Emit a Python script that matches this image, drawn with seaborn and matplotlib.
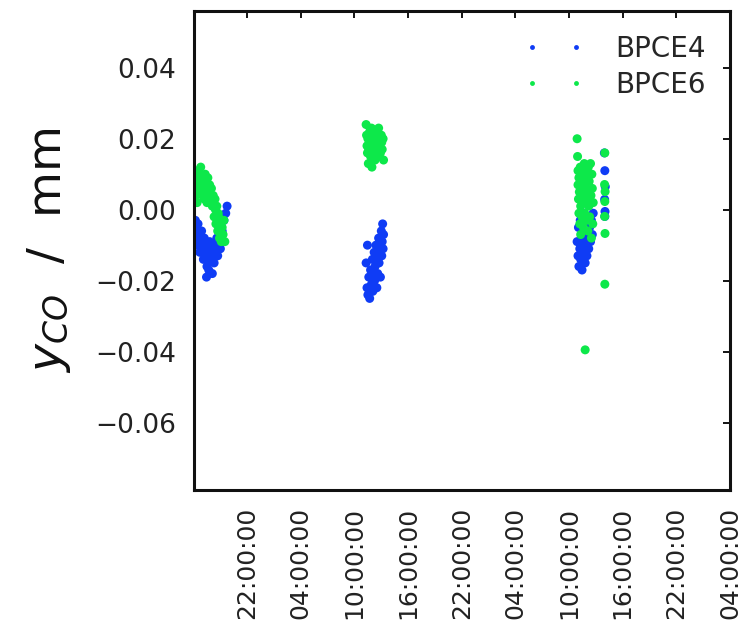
import numpy as np
import pandas as pd
import matplotlib
matplotlib.use("Agg")
import matplotlib.pyplot as plt
import matplotlib.dates as mdates
from matplotlib.lines import Line2D
import seaborn as sns

# ---- data (hours after start time, value in mm) ----
start = pd.Timestamp("2014-06-02 16:00:00")

bpce4_hours = [
    0.2, 0.25, 0.3, 0.4, 0.5, 0.6, 0.7, 0.8, 0.9, 1.0, 1.1, 1.2, 1.3, 1.4, 1.5, 1.6, 1.7, 1.8,
    1.9, 2.0, 2.1, 2.2, 2.3, 2.4, 2.5, 2.6, 2.7, 2.8, 2.9, 3.0, 3.1, 3.2, 3.4, 3.6, 3.75, 1.45,
    19.4, 19.5, 19.6, 19.7, 19.8, 19.9, 20.0, 20.05, 20.1, 20.2, 20.25, 20.3, 20.4, 20.5, 20.55,
    20.6, 20.7, 20.75, 20.8, 20.9, 21.0, 21.05, 21.1, 21.15, 21.2, 21.25, 19.3, 19.45,
    42.9, 43.0, 43.05, 43.1, 43.2, 43.25, 43.3, 43.4, 43.45, 43.5, 43.6, 43.65, 43.7, 43.8,
    43.85, 43.9, 44.0, 44.05, 44.1, 44.2, 44.3, 44.4, 44.5, 44.6, 44.7,
    45.95, 46.0, 46.05, 45.98, 46.02, 46.0,
]
bpce4_values = [
    -0.003, -0.008, -0.005, -0.010, -0.004, -0.007, -0.012, -0.009, -0.006, -0.011, -0.014, -0.008,
    -0.013, -0.010, -0.016, -0.012, -0.017, -0.009, -0.014, -0.011, -0.018, -0.013, -0.015, -0.010,
    -0.012, -0.008, -0.013, -0.010, -0.007, -0.011, -0.009, -0.006, -0.003, -0.001, 0.001, -0.019,
    -0.022, -0.024, -0.019, -0.025, -0.017, -0.021, -0.014, -0.023, -0.018, -0.012, -0.020, -0.016,
    -0.010, -0.022, -0.013, -0.018, -0.008, -0.015, -0.011, -0.019, -0.006, -0.013, -0.009, -0.004,
    -0.011, -0.007, -0.015, -0.010,
    -0.009, -0.013, -0.005, -0.016, -0.011, -0.003, -0.014, -0.008, -0.017, -0.006, -0.012, -0.001,
    -0.010, -0.015, -0.004, -0.009, -0.013, -0.002, -0.007, -0.011, -0.005, -0.009, -0.003, -0.007,
    -0.001,
    0.016, 0.011, 0.0065, 0.0029, -0.0005, -0.0019,
]

bpce6_hours = [
    0.2, 0.25, 0.3, 0.35, 0.4, 0.5, 0.6, 0.7, 0.8, 0.9, 1.0, 1.1, 1.2, 1.3, 1.4, 1.5, 1.6, 1.7,
    1.8, 1.9, 2.0, 2.1, 2.2, 2.3, 2.4, 2.5, 2.6, 2.7, 2.8, 2.9, 3.0, 3.1, 3.2, 3.3, 3.4, 3.5,
    2.45, 2.75,
    19.3, 19.35, 19.4, 19.45, 19.5, 19.55, 19.6, 19.7, 19.75, 19.8, 19.9, 19.95, 20.0, 20.1, 20.2,
    20.25, 20.3, 20.4, 20.5, 20.55, 20.6, 20.7, 20.8, 20.9, 21.0, 21.05, 21.1, 21.2, 21.25,
    42.9, 42.95, 43.0, 43.0, 43.05, 43.1, 43.1, 43.15, 43.2, 43.25, 43.3, 43.3, 43.35, 43.4, 43.45,
    43.5, 43.55, 43.6, 43.65, 43.7, 43.75, 43.8, 43.8, 43.85, 43.9, 43.95, 44.0, 44.05, 44.1, 44.15,
    44.2, 44.25, 44.3, 44.4, 44.45, 44.5, 44.55, 44.6, 44.65, 44.7,
    46.0, 45.97, 46.03, 46.0, 45.98, 46.02, 46.0,
]
bpce6_values = [
    0.008, 0.004, 0.010, 0.006, 0.002, 0.011, 0.007, 0.005, 0.012, 0.009, 0.004, 0.008, 0.003,
    0.010, 0.006, 0.002, 0.009, 0.005, 0.007, 0.003, 0.006, 0.001, 0.004, -0.002, 0.003, -0.004,
    0.001, -0.006, -0.002, -0.008, -0.004, -0.009, -0.005, -0.007, -0.003, -0.009, 0.000, -0.001,
    0.024, 0.021, 0.018, 0.016, 0.020, 0.013, 0.017, 0.022, 0.019, 0.015, 0.023, 0.012, 0.018,
    0.021, 0.016, 0.019, 0.014, 0.022, 0.017, 0.020, 0.015, 0.023, 0.018, 0.016, 0.021, 0.019,
    0.017, 0.020, 0.014,
    0.020, 0.015, 0.011, 0.007, 0.003, -0.001, 0.009, 0.005, -0.004, 0.012, 0.001, -0.007, 0.008,
    0.004, -0.002, 0.010, 0.006, -0.005, 0.002, 0.013, -0.001, -0.0395, 0.007, 0.011, 0.003,
    -0.003, 0.009, 0.005, -0.006, 0.012, 0.001, 0.008, -0.002, 0.013, 0.004, -0.008, 0.010, 0.006,
    -0.004, 0.002,
    0.016, 0.0071, 0.0051, 0.0023, -0.0019, -0.0067, -0.021,
]

series_names = ["BPCE4", "BPCE6"]
colors = {"BPCE4": "#0f3cf5", "BPCE6": "#0de84a"}
y_ticks = [-0.06, -0.04, -0.02, 0.00, 0.02, 0.04]
x_tick_hours = [6, 12, 18, 24, 30, 36, 42, 48, 54, 60]

df = pd.concat([
    pd.DataFrame({"time": start + pd.to_timedelta(bpce4_hours, unit="h"),
                  "value": bpce4_values, "series": "BPCE4"}),
    pd.DataFrame({"time": start + pd.to_timedelta(bpce6_hours, unit="h"),
                  "value": bpce6_values, "series": "BPCE6"}),
], ignore_index=True)

sns.set_style("white")
plt.rcParams["font.family"] = ["DejaVu Sans"]

fig = plt.figure(figsize=(7.44, 6.4), dpi=100)
ax = fig.add_axes([194 / 744, 1 - 490 / 640, (730 - 194) / 744, (490 - 11) / 640])

sns.scatterplot(data=df, x="time", y="value", hue="series", hue_order=series_names,
                palette=colors, s=42, linewidth=0, alpha=1.0, ax=ax, legend=False)

ax.set_xlim(start + pd.Timedelta(minutes=3), start + pd.Timedelta(hours=60))
ax.set_ylim(-0.079, 0.056)
ax.set_yticks(y_ticks)
ax.set_yticklabels([f"{v:.2f}".replace("-", "\u2212") for v in y_ticks])
ax.set_xticks([start + pd.Timedelta(hours=h) for h in x_tick_hours])
ax.xaxis.set_major_formatter(mdates.DateFormatter("%H:%M:%S"))
plt.setp(ax.get_xticklabels(), rotation=90)

ax.tick_params(axis="both", direction="in", length=5, width=1.3,
               top=True, right=True, colors="black", labelcolor="#222222")
ax.tick_params(axis="x", pad=12, labelsize=18)
ax.tick_params(axis="y", pad=13, labelsize=19)
for sp in ax.spines.values():
    sp.set_linewidth(2.2)
    sp.set_color("#111111")

ax.set_xlabel("")
ax.set_ylabel(r"$y_{CO}$  /  mm", fontsize=34, labelpad=16, color="#111111")

handles = [Line2D([0], [0], marker="o", linestyle="none", markersize=3.5,
                  markerfacecolor=colors[n], markeredgewidth=0) for n in series_names]
ax.legend(handles, series_names, loc="upper right", frameon=False, numpoints=2,
          fontsize=20, handlelength=2.2, handletextpad=1.1, labelspacing=0.3,
          borderaxespad=0.0, bbox_to_anchor=(0.975, 0.974))

fig.savefig("out.png", dpi=100)
